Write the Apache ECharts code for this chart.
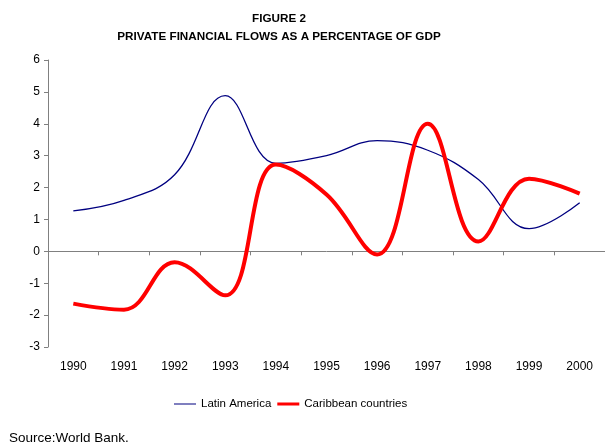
<!DOCTYPE html>
<html><head><meta charset="utf-8">
<script src="https://cdn.jsdelivr.net/npm/echarts@6/dist/echarts.min.js"></script>
<style>html,body{margin:0;padding:0;background:#fff}#c{width:605px;height:444px}</style>
</head><body><div id="c"></div>
<script>
const years = ['1990','1991','1992','1993','1994','1995','1996','1997','1998','1999','2000'];
const latinAmerica = [1.27, 1.6, 2.4, 4.88, 2.76, 3.0, 3.47, 3.17, 2.25, 0.71, 1.52];
const caribbean = [-1.64, -1.83, -0.34, -1.38, 2.72, 1.78, -0.1, 4.0, 0.31, 2.28, 1.81];
const yTicks = {min: -3, max: 6, interval: 1};

const chart = echarts.init(document.getElementById('c'), null, {renderer: 'canvas'});
const font = 'Liberation Sans, Arial, sans-serif';
const corners = 'M0,0L0.01,0L0,0.01Z M21.99,8L22,7.99L22,8Z ';
chart.setOption({
  animation: false,
  backgroundColor: '#fff',
  title: {
    text: 'FIGURE 2\nPRIVATE FINANCIAL FLOWS AS A PERCENTAGE OF GDP',
    left: 274, top: 5, textAlign: 'center',
    textStyle: {fontFamily: font, fontSize: 11.7, fontWeight: 'bold', color: '#000', lineHeight: 18}
  },
  legend: {
    left: 169, top: 393,
    itemWidth: 22, itemHeight: 8, itemGap: 6,
    textStyle: {fontFamily: font, fontSize: 11.5, color: '#000'},
    data: [
      {name: 'Latin America', icon: 'path://' + corners + 'M0,3.4H22V4.6H0Z', itemStyle: {color: '#000080'}},
      {name: 'Caribbean countries', icon: 'path://' + corners + 'M0,2.5H22V5.5H0Z', itemStyle: {color: '#ff0000'}}
    ]
  },
  graphic: [{type: 'text', left: 9, top: 431, style: {text: 'Source:World Bank.', font: '13.5px ' + font, fill: '#000'}}],
  grid: {left: 48, top: 60, width: 561, height: 287},
  xAxis: [
    {type: 'category', data: years, boundaryGap: true,
     axisLine: {onZero: true, lineStyle: {color: '#808080', width: 1}},
     axisTick: {show: true, length: 4, lineStyle: {color: '#808080'}},
     axisLabel: {show: false}},
    {type: 'category', data: years, boundaryGap: true, position: 'bottom',
     axisLine: {show: false, onZero: false}, axisTick: {show: false},
     axisLabel: {fontFamily: font, fontSize: 12, color: '#000', margin: 14}}
  ],
  yAxis: {type: 'value', min: yTicks.min, max: yTicks.max, interval: yTicks.interval,
    axisLine: {show: true, lineStyle: {color: '#808080'}},
    axisTick: {show: true, length: 4, lineStyle: {color: '#808080'}},
    splitLine: {show: false},
    axisLabel: {fontFamily: font, fontSize: 12, color: '#000', margin: 8}},
  series: [
    {name: 'Latin America', type: 'line', data: latinAmerica, smooth: 0.4, symbol: 'none',
     lineStyle: {color: '#000080', width: 1.3}, itemStyle: {color: '#000080'}},
    {name: 'Caribbean countries', type: 'line', data: caribbean, smooth: 0.4, symbol: 'none',
     lineStyle: {color: '#ff0000', width: 4}, itemStyle: {color: '#ff0000'}}
  ]
});
</script></body></html>
